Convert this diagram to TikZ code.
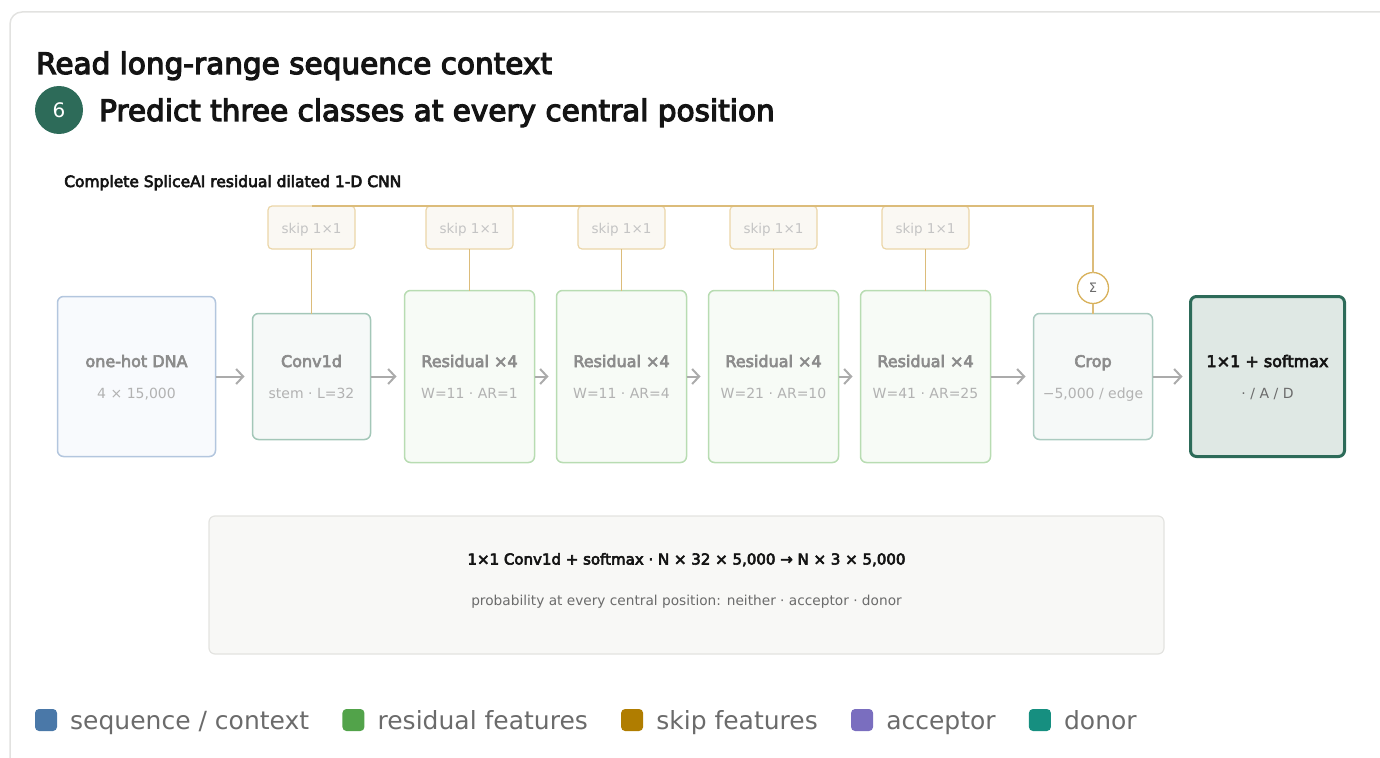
\documentclass[tikz,border=0pt]{standalone}
\usepackage{fontspec}
\setmainfont{DejaVu Sans}
\newfontfamily\semib{DejaVu Sans}[FakeBold=4]
\usetikzlibrary{arrows.meta,positioning}

\definecolor{cardgray}{HTML}{E2E2E0}
\definecolor{inkdark}{HTML}{141414}
\definecolor{badgegreen}{HTML}{2D6B59}
\definecolor{titlegray}{HTML}{8C8C8C}
\definecolor{subgray}{HTML}{B2B2B2}
\definecolor{arrowgray}{HTML}{ABABAB}
\definecolor{seqedge}{HTML}{B3C6DE}
\definecolor{seqfill}{HTML}{F8FAFD}
\definecolor{stemedge}{HTML}{A3C7B8}
\definecolor{stemfill}{HTML}{F6F9F8}
\definecolor{resedge}{HTML}{B8DCB2}
\definecolor{resfill}{HTML}{F7FBF6}
\definecolor{cropedge}{HTML}{ABCBC0}
\definecolor{outgreen}{HTML}{2D6B59}
\definecolor{outfill}{HTML}{DFE8E4}
\definecolor{skipedge}{HTML}{EBD6A8}
\definecolor{skipfill}{HTML}{FAF8F3}
\definecolor{skiptext}{HTML}{C4C4C4}
\definecolor{skipwire}{HTML}{DCBC7A}
\definecolor{sumedge}{HTML}{D8B15A}
\definecolor{infoedge}{HTML}{E3E3E0}
\definecolor{infofill}{HTML}{F8F8F6}
\definecolor{leggray}{HTML}{6B6B6B}
\definecolor{seqblue}{HTML}{4A78A8}
\definecolor{resgreen}{HTML}{52A34A}
\definecolor{skipgold}{HTML}{B07D00}
\definecolor{accpurple}{HTML}{7A6EBF}
\definecolor{donteal}{HTML}{168F80}

\tikzset{
    block/.style={draw, rounded corners=6pt, line width=1.5pt, inner sep=0pt, outer sep=0pt},
    blocktitle/.style={anchor=base, inner sep=0pt, text=titlegray, font=\semib\fontsize{16}{16}\selectfont},
    blocksub/.style={anchor=base, inner sep=0pt, text=subgray, font=\fontsize{14}{14}\selectfont},
    skipbox/.style={draw=skipedge, fill=skipfill, rounded corners=4pt, line width=1.2pt,
        minimum width=87pt, minimum height=43pt, outer sep=0pt, text height=11pt, text depth=0pt,
        text=skiptext, font=\fontsize{13.5}{13.5}\selectfont},
    skipline/.style={draw=skipwire, line width=1.5pt},
    sumnode/.style={circle, draw=sumedge, fill=white, line width=1.3pt, minimum size=31pt,
        inner sep=0pt, outer sep=0pt, text=leggray, font=\fontsize{13}{13}\selectfont},
    flow/.style={draw=arrowgray, line width=2pt, -{Straight Barb[length=7pt,width=15pt]}, shorten >=8pt},
    legsq/.style={rounded corners=4pt, minimum size=22pt, inner sep=0pt, outer sep=0pt},
    legtext/.style={inner sep=0pt, text height=22pt, text depth=4pt, text=leggray, font=\fontsize{25}{25}\selectfont},
}

\begin{document}
\begin{tikzpicture}[x=1pt,y=-1pt]
    \useasboundingbox (0,0) rectangle (1380,757);
    \clip (0,0) rectangle (1380,757);

    %card
    \draw[cardgray, line width=1.5pt, rounded corners=12pt] (10,790) -- (10,12) -- (1420,12);

    %headings
    \node[anchor=base west, inner sep=0pt, text=inkdark, font=\semib\fontsize{29.5}{29.5}\selectfont] (head) at (36,74) {Read long-range sequence context};
    \node[circle, fill=badgegreen, minimum size=48pt, inner sep=0pt, text=white, font=\fontsize{20}{20}\selectfont] (badge) at (59,110) {6};
    \node[anchor=base west, inner sep=0pt, text=inkdark, font=\semib\fontsize{29.5}{29.5}\selectfont] (step6) at (99,121) {Predict three classes at every central position};
    \node[anchor=base west, inner sep=0pt, text=inkdark, font=\semib\fontsize{15.5}{15.5}\selectfont] (netname) at (64,187) {Complete SpliceAI residual dilated 1-D CNN};

    %blocks
    \node[block, draw=seqedge, fill=seqfill, minimum width=158pt, minimum height=160pt] (dna) at (136.5,376.5) {};
    \node[block, draw=stemedge, fill=stemfill, minimum width=118pt, minimum height=126pt, right=37pt of dna] (conv) {};
    \node[block, draw=resedge, fill=resfill, minimum width=130pt, minimum height=172pt, right=34pt of conv] (res1) {};
    \node[block, draw=resedge, fill=resfill, minimum width=130pt, minimum height=172pt, right=22pt of res1] (res2) {};
    \node[block, draw=resedge, fill=resfill, minimum width=130pt, minimum height=172pt, right=22pt of res2] (res3) {};
    \node[block, draw=resedge, fill=resfill, minimum width=130pt, minimum height=172pt, right=22pt of res3] (res4) {};
    \node[block, draw=cropedge, fill=stemfill, minimum width=119pt, minimum height=126pt, right=43pt of res4] (crop) {};
    \node[block, draw=outgreen, fill=outfill, line width=3pt, minimum width=154pt, minimum height=160pt, right=38pt of crop] (out) {};

    %block labels
    \node[blocktitle] (dnatitle) at ([yshift=9.5pt]dna.center) {one-hot DNA};
    \node[blocksub] (dnasub) at ([yshift=-21.5pt]dna.center) {4 × 15,000};
    \node[blocktitle] (convtitle) at ([yshift=9.5pt]conv.center) {Conv1d};
    \node[blocksub] (convsub) at ([yshift=-21.5pt]conv.center) {stem · L=32};
    \node[blocktitle] (res1title) at ([yshift=9.5pt]res1.center) {Residual ×4};
    \node[blocksub] (res1sub) at ([yshift=-21.5pt]res1.center) {W=11 · AR=1};
    \node[blocktitle] (res2title) at ([yshift=9.5pt]res2.center) {Residual ×4};
    \node[blocksub] (res2sub) at ([yshift=-21.5pt]res2.center) {W=11 · AR=4};
    \node[blocktitle] (res3title) at ([yshift=9.5pt]res3.center) {Residual ×4};
    \node[blocksub] (res3sub) at ([yshift=-21.5pt]res3.center) {W=21 · AR=10};
    \node[blocktitle] (res4title) at ([yshift=9.5pt]res4.center) {Residual ×4};
    \node[blocksub] (res4sub) at ([yshift=-21.5pt]res4.center) {W=41 · AR=25};
    \node[blocktitle] (croptitle) at ([yshift=9.5pt]crop.center) {Crop};
    \node[blocksub] (cropsub) at ([yshift=-21.5pt]crop.center) {−5,000 / edge};
    \node[blocktitle, text=inkdark] (outtitle) at ([yshift=9.5pt]out.center) {1×1 + softmax};
    \node[blocksub, text=leggray] (outsub) at ([yshift=-21.5pt]out.center) {· / A / D};

    %main flow
    \draw[flow] (dna) -- (conv);
    \draw[flow] (conv) -- (res1);
    \draw[flow] (res1) -- (res2);
    \draw[flow] (res2) -- (res3);
    \draw[flow] (res3) -- (res4);
    \draw[flow] (res4) -- (crop);
    \draw[flow] (crop) -- (out);

    %skip taps
    \node[skipbox] (skip1) at (conv |- 0,227.5) {skip 1×1};
    \node[skipbox] (skip2) at (res1 |- 0,227.5) {skip 1×1};
    \node[skipbox] (skip3) at (res2 |- 0,227.5) {skip 1×1};
    \node[skipbox] (skip4) at (res3 |- 0,227.5) {skip 1×1};
    \node[skipbox] (skip5) at (res4 |- 0,227.5) {skip 1×1};
    \node[sumnode] (sum) at (crop |- 0,288) {Σ};

    \draw[skipline] (skip1.south) -- (conv.north);
    \draw[skipline] (skip2.south) -- (res1.north);
    \draw[skipline] (skip3.south) -- (res2.north);
    \draw[skipline] (skip4.south) -- (res3.north);
    \draw[skipline] (skip5.south) -- (res4.north);
    \draw[skipline] (skip1.north) -| (sum.north);
    \draw[skipline] (sum.south) -- (crop.north);

    %output note
    \node[draw=infoedge, fill=infofill, line width=1.2pt, rounded corners=6pt, minimum width=955pt, minimum height=138pt, inner sep=0pt] (info) at (686.5,585) {};
    \node[anchor=base, inner sep=0pt, text=inkdark, font=\semib\fontsize{15}{15}\selectfont] (infohead) at ([yshift=20.5pt]info.center) {1×1 Conv1d + softmax · N × 32 × 5,000 → N × 3 × 5,000};
    \node[anchor=base, inner sep=0pt, text=leggray, font=\fontsize{13.7}{13.7}\selectfont] (infosub) at ([yshift=-20pt]info.center) {probability at every central position: neither · acceptor · donor};

    %legend
    \node[legsq, fill=seqblue] (leg1) at (46,720) {};
    \node[legtext, right=13pt of leg1] (lt1) {sequence / context};
    \node[legsq, fill=resgreen, right=33pt of lt1] (leg2) {};
    \node[legtext, right=13pt of leg2] (lt2) {residual features};
    \node[legsq, fill=skipgold, right=33pt of lt2] (leg3) {};
    \node[legtext, right=13pt of leg3] (lt3) {skip features};
    \node[legsq, fill=accpurple, right=33pt of lt3] (leg4) {};
    \node[legtext, right=13pt of leg4] (lt4) {acceptor};
    \node[legsq, fill=donteal, right=33pt of lt4] (leg5) {};
    \node[legtext, right=13pt of leg5] (lt5) {donor};
\end{tikzpicture}
\end{document}
